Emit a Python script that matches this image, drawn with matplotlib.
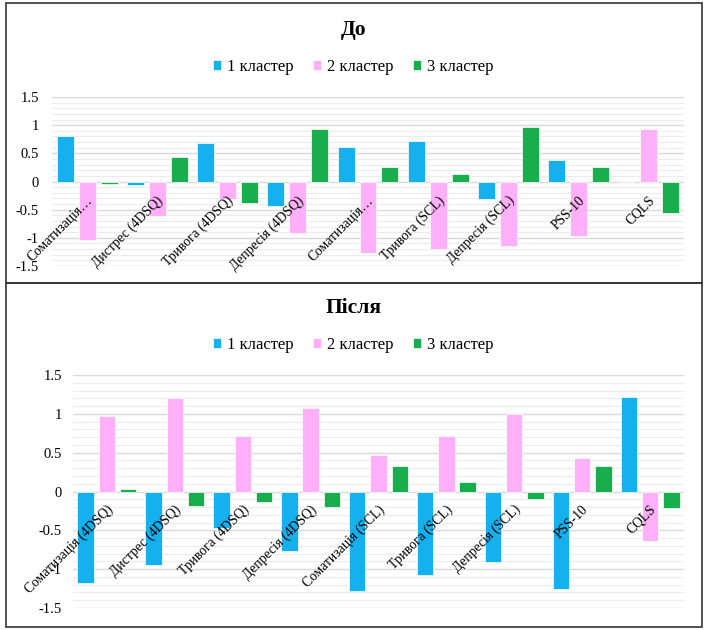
import matplotlib
matplotlib.use("Agg")
import matplotlib.pyplot as plt
import numpy as np
from matplotlib.patches import Rectangle
from matplotlib.transforms import offset_copy

plt.rcParams['font.family'] = ['Liberation Serif', 'DejaVu Serif']

categories_before = ["Соматизація…", "Дистрес (4DSQ)", "Тривога (4DSQ)", "Депресія (4DSQ)",
                     "Соматизація…", "Тривога (SCL)", "Депресія (SCL)", "PSS-10", "CQLS"]
categories_after = ["Соматизація (4DSQ)", "Дистрес (4DSQ)", "Тривога (4DSQ)", "Депресія (4DSQ)",
                    "Соматизація (SCL)", "Тривога (SCL)", "Депресія (SCL)", "PSS-10", "CQLS"]
series_names = ["1 кластер", "2 кластер", "3 кластер"]

before_c1 = [0.81, -0.06, 0.69, -0.43, 0.62, 0.72, -0.31, 0.39, -0.01]
before_c2 = [-1.03, -0.62, -0.31, -0.92, -1.27, -1.19, -1.14, -0.97, 0.94]
before_c3 = [-0.04, 0.44, -0.39, 0.93, 0.25, 0.13, 0.97, 0.25, -0.56]

after_c1 = [-1.18, -0.94, -0.47, -0.76, -1.28, -1.08, -0.91, -1.25, 1.22]
after_c2 = [0.97, 1.21, 0.71, 1.07, 0.47, 0.72, 1.00, 0.43, -0.64]
after_c3 = [0.035, -0.19, -0.14, -0.20, 0.33, 0.12, -0.10, 0.33, -0.21]

yticks = [-1.5, -1, -0.5, 0, 0.5, 1, 1.5]
ytick_labels = ["-1.5", "-1", "-0.5", "0", "0.5", "1", "1.5"]

colors = ["#14B1EE", "#FFB0F8", "#18AE4E"]

W, H = 707, 630
fig = plt.figure(figsize=(W / 100, H / 100), dpi=100)


def fx(px):
    return px / W


def fy(py):
    return 1 - py / H


def draw_panel(ax_rect, title, title_y, legend_y, cats, series, label_dy, ypad):
    l, t, r, b = ax_rect
    ax = fig.add_axes([fx(l), fy(b), fx(r - l), (b - t) / H])
    n = len(cats)
    x = np.arange(n)
    width = 0.242
    offs = [-0.313, 0, 0.313]
    handles = []
    for vals, off, col, name in zip(series, offs, colors, series_names):
        h = ax.bar(x + off, vals, width, color=col, edgecolor='white', linewidth=0.5,
                   label=name, zorder=3)
        handles.append(h)
    ax.set_xlim(-0.5, n - 0.5)
    ax.set_ylim(-1.5, 1.5)
    ax.set_yticks(yticks)
    ax.set_yticklabels(ytick_labels, fontsize=10.5)
    ax.set_yticks(np.arange(-1.5, 1.51, 0.1), minor=True)
    ax.tick_params(axis='y', which='both', length=0, pad=ypad)
    ax.tick_params(axis='x', length=0)
    ax.set_xticks([])
    ax.grid(axis='y', which='major', color='#d9d9d9', linewidth=1.0, zorder=0)
    ax.grid(axis='y', which='minor', color='#ececec', linewidth=0.8, zorder=0)
    for s in ax.spines.values():
        s.set_visible(False)
    trans = offset_copy(ax.transData, fig=fig, x=4, y=label_dy, units='dots')
    for i, c in enumerate(cats):
        ax.text(x[i], 0, c, rotation=45, ha='right', va='center',
                rotation_mode='anchor', transform=trans, fontsize=9.8, zorder=4)
    fig.text(0.5, fy(title_y), title, ha='center', va='center', fontsize=15.5,
             fontweight='bold')
    fig.legend(handles=handles, labels=series_names, loc='center',
               bbox_to_anchor=(0.5, fy(legend_y)), ncol=3, frameon=False,
               fontsize=12, handlelength=0.45, handleheight=0.55,
               handletextpad=0.4, columnspacing=1.15)
    return ax


draw_panel((52, 97, 684, 266), "До", 30, 67,
           categories_before, [before_c1, before_c2, before_c3], -17, 9.5)
draw_panel((73, 375, 684, 608), "Після", 308, 345,
           categories_after, [after_c1, after_c2, after_c3], -16, 8)

# panel borders
for (x0, y0, x1, y1) in [(6, 3, 702, 283), (6, 283, 702, 627)]:
    fig.patches.append(Rectangle((fx(x0), fy(y1)), fx(x1 - x0), (y1 - y0) / H,
                                 transform=fig.transFigure, fill=False,
                                 edgecolor='#333333', linewidth=1.2))

fig.savefig("out.png", dpi=100)
